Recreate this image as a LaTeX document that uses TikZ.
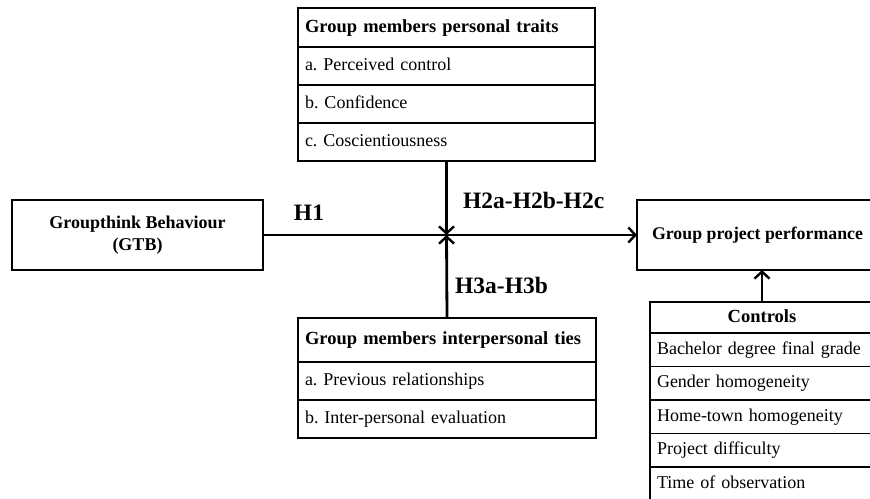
\documentclass[tikz,border=0pt]{standalone}
\usepackage{fontspec}
\setmainfont{Liberation Serif}
\frenchspacing
\usetikzlibrary{positioning,arrows.meta}

\begin{document}
\begin{tikzpicture}[x=1pt, y=-1pt, node distance=0pt,
    cell/.style={draw, rectangle, line width=1.6pt, outer sep=0pt, inner xsep=7pt, inner ysep=0pt,
        font=\fontsize{18}{21}\selectfont, text height=13pt, text depth=4pt},
    head/.style={cell, font=\fontsize{18.5}{21}\selectfont\bfseries},
    mainbox/.style={draw, rectangle, line width=1.6pt, outer sep=0pt, align=center,
        font=\fontsize{18}{22}\selectfont\bfseries},
    hyp/.style={font=\fontsize{23.5}{26}\selectfont\bfseries, inner sep=0pt},
    conn/.style={line width=2.8pt, -{Straight Barb[length=7pt,width=15pt,line width=2.4pt]}}]
    \useasboundingbox (0,0) rectangle (870,498);

    % personal traits
    \node (traits) [head, anchor=north west, text width=283pt, minimum height=39pt] at (298,8) {Group members personal traits};
    \node (control) [cell, below=of traits, text width=283pt, minimum height=38pt] {a. Perceived control};
    \node (confid) [cell, below=of control, text width=283pt, minimum height=38pt] {b. Confidence};
    \node (consc) [cell, below=of confid, text width=283pt, minimum height=38pt] {c. Coscientiousness};

    % interpersonal ties
    \node (ties) [head, anchor=north west, text width=284pt, minimum height=44pt] at (298,318) {Group members interpersonal ties};
    \node (prevrel) [cell, below=of ties, text width=284pt, minimum height=38pt] {a. Previous relationships};
    \node (evalu) [cell, below=of prevrel, text width=284pt, minimum height=38pt] {b. Inter-personal evaluation};

    % main boxes
    \node (gtb) [mainbox, anchor=north west, minimum width=251pt, minimum height=70pt] at (12,200) {Groupthink Behaviour\\(GTB)};
    \node (gpp) [mainbox, anchor=north west, minimum width=241pt, minimum height=70pt,
        font=\fontsize{17.8}{20}\selectfont\bfseries] at (637,200) {Group project performance};

    % controls
    \node (controls) [head, anchor=north, text width=210pt, align=center, minimum height=31pt] at (762,302) {Controls};
    \node (grade) [cell, below=of controls, text width=210pt, minimum height=33.5pt] {Bachelor degree final grade};
    \node (gender) [cell, below=of grade, text width=210pt, minimum height=33.5pt] {Gender homogeneity};
    \node (town) [cell, below=of gender, text width=210pt, minimum height=33.5pt] {Home-town homogeneity};
    \node (diffic) [cell, below=of town, text width=210pt, minimum height=33.5pt] {Project difficulty};
    \node (timeobs) [cell, below=of diffic, text width=210pt, minimum height=33.5pt] {Time of observation};

    \coordinate (join) at (consc.south |- gtb.east);

    \draw [conn] (gtb.east) -- (gpp.west);
    \draw [conn] (consc.south) -- (join);
    \draw [conn] (ties.north) -- (join);
    \draw [conn] (controls.north) -- (controls.north |- gpp.south);

    % hypotheses
    \node (h1) [hyp] at (309,213) {H1};
    \node (h2) [hyp, anchor=west] at (463,200) {H2a-H2b-H2c};
    \node (h3) [hyp, anchor=west] at (455,285) {H3a-H3b};
\end{tikzpicture}
\end{document}
